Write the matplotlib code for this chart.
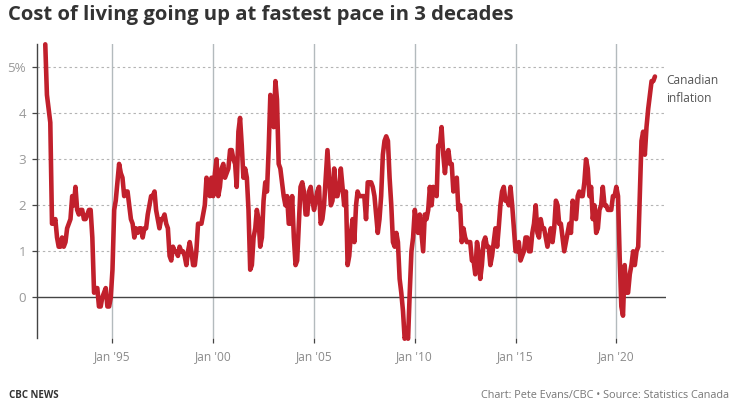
import numpy as np
import pandas as pd
import matplotlib
matplotlib.use('Agg')
import matplotlib.pyplot as plt

plt.rcParams['font.family'] = ['Open Sans', 'DejaVu Sans']

# year over year CPI change, monthly from Sep 1991
y1991 = [5.5, 4.4, 4.1, 3.8]
y1992 = [1.6, 1.6, 1.7, 1.3, 1.1, 1.1, 1.3, 1.1, 1.2, 1.5, 1.6, 1.7]
y1993 = [2.2, 2.0, 2.4, 1.9, 1.8, 1.9, 1.9, 1.7, 1.7, 1.8, 1.9, 1.9]
y1994 = [1.3, 0.1, 0.2, 0.2, -0.2, -0.2, 0.0, 0.1, 0.2, -0.2, -0.2, 0.0]
y1995 = [0.6, 1.9, 2.1, 2.5, 2.9, 2.7, 2.6, 2.2, 2.3, 2.3, 2.0, 1.7]
y1996 = [1.6, 1.3, 1.5, 1.4, 1.5, 1.5, 1.3, 1.5, 1.5, 1.8, 2.0, 2.2]
y1997 = [2.2, 2.3, 1.9, 1.7, 1.5, 1.7, 1.7, 1.8, 1.6, 1.5, 0.9, 0.8]
y1998 = [1.1, 1.0, 1.0, 0.9, 1.1, 1.0, 1.0, 0.9, 0.7, 1.0, 1.2, 1.0]
y1999 = [0.7, 0.7, 1.0, 1.6, 1.6, 1.6, 1.8, 2.0, 2.6, 2.3, 2.2, 2.6]
y2000 = [2.2, 2.7, 3.0, 2.2, 2.4, 2.8, 2.9, 2.6, 2.7, 2.8, 3.2, 3.2]
y2001 = [3.0, 2.9, 2.4, 3.6, 3.9, 3.3, 2.6, 2.8, 2.6, 1.9, 0.6, 0.7]
y2002 = [1.3, 1.5, 1.9, 1.7, 1.1, 1.3, 2.1, 2.5, 2.3, 3.2, 4.4, 3.8]
y2003 = [3.7, 4.7, 4.3, 2.9, 2.8, 2.5, 2.2, 2.0, 2.2, 1.6, 1.6, 2.2]
y2004 = [1.3, 0.7, 0.8, 1.6, 2.4, 2.5, 2.3, 1.8, 1.8, 2.3, 2.4, 2.1]
y2005 = [1.9, 2.1, 2.3, 2.4, 1.6, 1.7, 2.0, 2.6, 3.2, 2.6, 2.0, 2.1]
y2006 = [2.8, 2.2, 2.2, 2.4, 2.8, 2.4, 2.0, 2.3, 0.7, 0.9, 1.4, 1.7]
y2007 = [1.2, 2.0, 2.3, 2.2, 2.2, 2.2, 2.2, 1.7, 2.5, 2.5, 2.5, 2.4]
y2008 = [2.2, 1.8, 1.4, 1.7, 2.2, 3.1, 3.4, 3.5, 3.4, 2.6, 2.0, 1.2]
y2009 = [1.1, 1.4, 1.2, 0.4, 0.1, -0.3, -0.9, -0.8, -0.9, 0.1, 1.0, 1.3]
y2010 = [1.9, 1.6, 1.4, 1.8, 1.4, 1.0, 1.8, 1.7, 1.9, 2.4, 2.0, 2.4]
y2011 = [2.3, 2.2, 3.3, 3.3, 3.7, 3.1, 2.7, 3.1, 3.2, 2.9, 2.9, 2.3]
y2012 = [2.5, 2.6, 1.9, 2.0, 1.2, 1.5, 1.3, 1.2, 1.2, 1.2, 0.8, 0.8]
y2013 = [0.5, 1.2, 1.0, 0.4, 0.7, 1.2, 1.3, 1.1, 1.1, 0.7, 0.9, 1.2]
y2014 = [1.5, 1.1, 1.5, 2.0, 2.3, 2.4, 2.1, 2.1, 2.0, 2.4, 2.0, 1.5]
y2015 = [1.0, 1.0, 1.2, 0.8, 0.9, 1.0, 1.3, 1.3, 1.0, 1.0, 1.4, 1.6]
y2016 = [2.0, 1.4, 1.3, 1.7, 1.5, 1.5, 1.3, 1.1, 1.3, 1.5, 1.2, 1.5]
y2017 = [2.1, 2.0, 1.6, 1.6, 1.3, 1.0, 1.2, 1.4, 1.6, 1.4, 2.1, 1.9]
y2018 = [1.7, 2.2, 2.3, 2.2, 2.2, 2.5, 3.0, 2.8, 2.2, 2.4, 1.7, 2.0]
y2019 = [1.4, 1.5, 1.9, 2.0, 2.4, 2.0, 2.0, 1.9, 1.9, 1.9, 2.2, 2.2]
y2020 = [2.4, 2.2, 0.9, -0.2, -0.4, 0.7, 0.1, 0.1, 0.5, 0.7, 1.0, 0.7]
y2021 = [1.0, 1.1, 2.2, 3.4, 3.6, 3.1, 3.7, 4.1, 4.4, 4.7, 4.7, 4.8]

inflation = (y1991 + y1992 + y1993 + y1994 + y1995 + y1996 + y1997 + y1998
             + y1999 + y2000 + y2001 + y2002 + y2003 + y2004 + y2005 + y2006
             + y2007 + y2008 + y2009 + y2010 + y2011 + y2012 + y2013 + y2014
             + y2015 + y2016 + y2017 + y2018 + y2019 + y2020 + y2021)
months = pd.date_range('1991-09-01', periods=len(inflation), freq='MS')

x_ticks = pd.to_datetime(['1995-01-01', '2000-01-01', '2005-01-01',
                          '2010-01-01', '2015-01-01', '2020-01-01'])
x_labels = ["Jan '95", "Jan '00", "Jan '05", "Jan '10", "Jan '15", "Jan '20"]
y_ticks = [0, 1, 2, 3, 4, 5]
y_labels = ['0', '1', '2', '3', '4', '5%']

W, H = 733, 407
fig = plt.figure(figsize=(W / 100, H / 100), dpi=100)
ax = fig.add_axes([36.5 / W, 1 - 338 / H, (665.7 - 36.5) / W, (338 - 44) / H])

ax.set_ylim(-0.885, 5.507)
ax.set_xlim(pd.Timestamp('1995-01-01') - pd.Timedelta(days=1377),
            pd.Timestamp('2020-01-01') + pd.Timedelta(days=895))

# grid first, the red line sits on top
for v in y_ticks[1:]:
    ax.axhline(v, color='#b4b4b4', lw=0.8, dashes=(2.2, 2.6), zorder=1)
for t in x_ticks:
    ax.axvline(t, color='#b3babd', lw=1.0, zorder=1)
ax.axhline(0, color='#444444', lw=1.0, zorder=2)

ax.plot(months, inflation, color='#c1202c', lw=3.3, solid_joinstyle='round',
        solid_capstyle='round', clip_on=False, zorder=3)

for s in ['top', 'right', 'bottom']:
    ax.spines[s].set_visible(False)
ax.spines['left'].set_color('#444444')
ax.spines['left'].set_linewidth(1.0)

ax.set_xticks(x_ticks)
ax.set_xticklabels(x_labels)
ax.set_yticks(y_ticks)
ax.set_yticklabels(y_labels)
ax.tick_params(axis='x', length=3.5, width=0.9, color='#444444', pad=5,
               labelsize=8.6, labelcolor='#8a8a8a')
ax.tick_params(axis='y', length=3.5, width=0.9, color='#444444', pad=4,
               labelsize=9.6, labelcolor='#999999')

fig.text(666 / W, 1 - 80.5 / H, 'Canadian', fontsize=8.6, color='#555555', va='center')
fig.text(666 / W, 1 - 98 / H, 'inflation', fontsize=8.6, color='#555555', va='center')

fig.text(8 / W, 1 - 15 / H, 'Cost of living going up at fastest pace in 3 decades',
         fontsize=14.6, fontweight='bold', color='#333333', va='center')
fig.text(9 / W, 1 - 395 / H, 'CBC NEWS', fontsize=7, fontweight='bold',
         color='#333333', va='center')
fig.text(729 / W, 1 - 395 / H, 'Chart: Pete Evans/CBC • Source: Statistics Canada',
         fontsize=7.85, color='#777777', va='center', ha='right')

fig.savefig('out.png', dpi=100)
